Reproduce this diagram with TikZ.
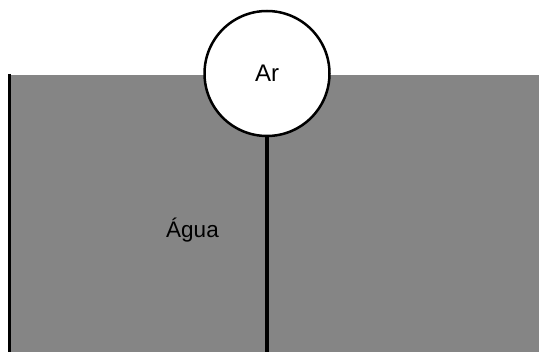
\documentclass[tikz,border=0pt]{standalone}
\usepackage{fontspec}
\setmainfont{Liberation Sans}
\usetikzlibrary{calc}
\definecolor{watergray}{HTML}{858585}
\tikzset{
  wall/.style={draw=black, line width=3pt},
  bubble/.style={draw=black, fill=white, circle, line width=2.5pt, minimum size=125pt, inner sep=0pt, font=\fontsize{24}{28}\selectfont},
  lbl/.style={font=\fontsize{22.5}{26}\selectfont, inner sep=0pt}
}
\begin{document}
\begin{tikzpicture}[x=1pt, y=-1pt]
  \useasboundingbox (0,0) rectangle (539,352);
  \fill[watergray] (9,75) rectangle (539,352);

  \node[bubble] (ar) at (267,73.5) {Ar};
  \node[lbl, anchor=base] (agua) at (192.5,237.3) {Água};

  \coordinate (wallTop) at (9,74);
  \coordinate (wallBottom) at (9,352);
  \coordinate (stemBottom) at (ar.south |- wallBottom);

  \draw[wall] (wallTop) -- (wallBottom);
  \draw[wall, line width=3.5pt] (ar.south) -- (stemBottom);
\end{tikzpicture}
\end{document}
